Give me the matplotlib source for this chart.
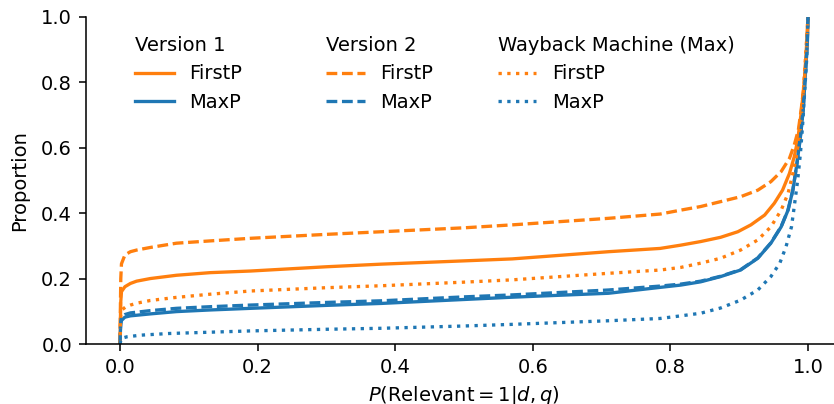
import matplotlib
matplotlib.use("Agg")
import matplotlib.pyplot as plt

# ---- data ----
v1_firstp_x = [0, 0.0005, 0.001, 0.002, 0.007, 0.015, 0.024, 0.044, 0.082, 0.131, 0.19, 0.3, 0.38, 0.5, 0.57, 0.71,
               0.785, 0.815, 0.844, 0.873, 0.898, 0.917, 0.937, 0.951, 0.963, 0.973, 0.980, 0.985, 0.990, 0.994, 0.997, 1.0]
v1_firstp_y = [0, 0.08, 0.13, 0.16, 0.175, 0.185, 0.192, 0.200, 0.210, 0.218, 0.223, 0.236, 0.244, 0.254, 0.260, 0.282,
               0.292, 0.302, 0.313, 0.326, 0.343, 0.364, 0.394, 0.430, 0.470, 0.521, 0.572, 0.623, 0.705, 0.786, 0.878, 1.0]

v1_maxp_x = [0, 0.0005, 0.001, 0.002, 0.007, 0.015, 0.044, 0.082, 0.131, 0.19, 0.3, 0.38, 0.5, 0.57, 0.71,
             0.785, 0.815, 0.844, 0.873, 0.902, 0.927, 0.946, 0.961, 0.971, 0.978, 0.984, 0.989, 0.993, 0.996, 0.999, 1.0]
v1_maxp_y = [0, 0.04, 0.06, 0.072, 0.082, 0.086, 0.092, 0.099, 0.104, 0.109, 0.118, 0.124, 0.136, 0.143, 0.155,
             0.173, 0.180, 0.190, 0.206, 0.226, 0.262, 0.308, 0.358, 0.409, 0.470, 0.552, 0.633, 0.715, 0.817, 0.919, 1.0]

v2_firstp_x = [0, 0.0005, 0.001, 0.002, 0.007, 0.015, 0.024, 0.044, 0.082, 0.131, 0.19, 0.3, 0.38, 0.5, 0.57, 0.71,
               0.785, 0.815, 0.844, 0.873, 0.902, 0.927, 0.946, 0.961, 0.973, 0.980, 0.986, 0.990, 0.994, 0.997, 0.999, 1.0]
v2_firstp_y = [0, 0.12, 0.20, 0.245, 0.272, 0.282, 0.287, 0.295, 0.308, 0.315, 0.323, 0.335, 0.343, 0.355, 0.364, 0.384,
               0.397, 0.409, 0.420, 0.435, 0.450, 0.470, 0.496, 0.527, 0.567, 0.608, 0.654, 0.715, 0.786, 0.868, 0.939, 1.0]

v2_maxp_x = [0, 0.0005, 0.001, 0.002, 0.007, 0.015, 0.044, 0.082, 0.131, 0.19, 0.3, 0.38, 0.5, 0.57, 0.71,
             0.785, 0.815, 0.844, 0.873, 0.902, 0.927, 0.946, 0.961, 0.971, 0.978, 0.984, 0.989, 0.993, 0.996, 0.999, 1.0]
v2_maxp_y = [0, 0.05, 0.07, 0.082, 0.090, 0.095, 0.102, 0.109, 0.114, 0.119, 0.127, 0.132, 0.144, 0.150, 0.165,
             0.177, 0.183, 0.192, 0.207, 0.227, 0.263, 0.309, 0.359, 0.410, 0.471, 0.553, 0.634, 0.716, 0.818, 0.920, 1.0]

wb_firstp_x = [0, 0.0005, 0.001, 0.003, 0.008, 0.015, 0.025, 0.044, 0.08, 0.13, 0.19, 0.3, 0.38, 0.5, 0.57, 0.71,
               0.785, 0.815, 0.844, 0.873, 0.902, 0.927, 0.946, 0.961, 0.971, 0.978, 0.983, 0.988, 0.991, 0.994, 0.997, 1.0]
wb_firstp_y = [0, 0.06, 0.09, 0.105, 0.113, 0.119, 0.125, 0.133, 0.142, 0.152, 0.162, 0.172, 0.178, 0.189, 0.196, 0.216,
               0.226, 0.234, 0.247, 0.262, 0.287, 0.318, 0.358, 0.409, 0.460, 0.521, 0.572, 0.633, 0.715, 0.796, 0.898, 1.0]

wb_maxp_x = [0, 0.001, 0.003, 0.01, 0.03, 0.07, 0.13, 0.19, 0.3, 0.38, 0.5, 0.57, 0.71,
             0.785, 0.815, 0.844, 0.873, 0.902, 0.927, 0.946, 0.959, 0.968, 0.976, 0.980, 0.985, 0.989, 0.992, 0.995, 0.998, 1.0]
wb_maxp_y = [0, 0.012, 0.018, 0.022, 0.027, 0.032, 0.036, 0.040, 0.045, 0.048, 0.055, 0.060, 0.071,
             0.078, 0.086, 0.094, 0.110, 0.134, 0.165, 0.206, 0.247, 0.297, 0.358, 0.420, 0.501, 0.583, 0.664, 0.766, 0.868, 1.0]

x_ticks = [0.0, 0.2, 0.4, 0.6, 0.8, 1.0]
y_ticks = [0.0, 0.2, 0.4, 0.6, 0.8, 1.0]

orange = "#ff7f0e"
blue = "#1f77b4"
lw = 1.7
dash = (3.7 * 1.5 / lw, 1.6 * 1.5 / lw)

fig = plt.figure(figsize=(834 / 140, 404 / 140), dpi=140)
ax = fig.add_axes([85.7 / 834, 60 / 404, (842.4 - 85.7) / 834, (344 - 16.7) / 404])

l1, = ax.plot(v1_firstp_x, v1_firstp_y, color=orange, ls="-", lw=lw)
l2, = ax.plot(v1_maxp_x, v1_maxp_y, color=blue, ls="-", lw=lw)
l3, = ax.plot(v2_firstp_x, v2_firstp_y, color=orange, ls=(0, dash), lw=lw)
l4, = ax.plot(v2_maxp_x, v2_maxp_y, color=blue, ls=(0, dash), lw=lw)
l5, = ax.plot(wb_firstp_x, wb_firstp_y, color=orange, ls=":", lw=lw)
l6, = ax.plot(wb_maxp_x, wb_maxp_y, color=blue, ls=":", lw=lw)

ax.set_xlim(-0.05, 1.05)
ax.set_ylim(0, 1)
ax.set_xticks(x_ticks)
ax.set_yticks(y_ticks)
ax.spines["top"].set_visible(False)
ax.spines["right"].set_visible(False)
ax.set_xlabel(r"$P(\mathrm{Relevant}=1|d,q)$")
ax.set_ylabel("Proportion", labelpad=6)

top = 0.966
kw = dict(loc="upper left", frameon=False, alignment="left", borderaxespad=0)
leg1 = ax.legend([l1, l2], ["FirstP", "MaxP"], title="Version 1", bbox_to_anchor=(0.0545, top), **kw)
ax.add_artist(leg1)
leg2 = ax.legend([l3, l4], ["FirstP", "MaxP"], title="Version 2", bbox_to_anchor=(0.307, top), **kw)
ax.add_artist(leg2)
leg3 = ax.legend([l5, l6], ["FirstP", "MaxP"], title="Wayback Machine (Max)", bbox_to_anchor=(0.534, top), **kw)

fig.savefig("out.png", dpi=140)
